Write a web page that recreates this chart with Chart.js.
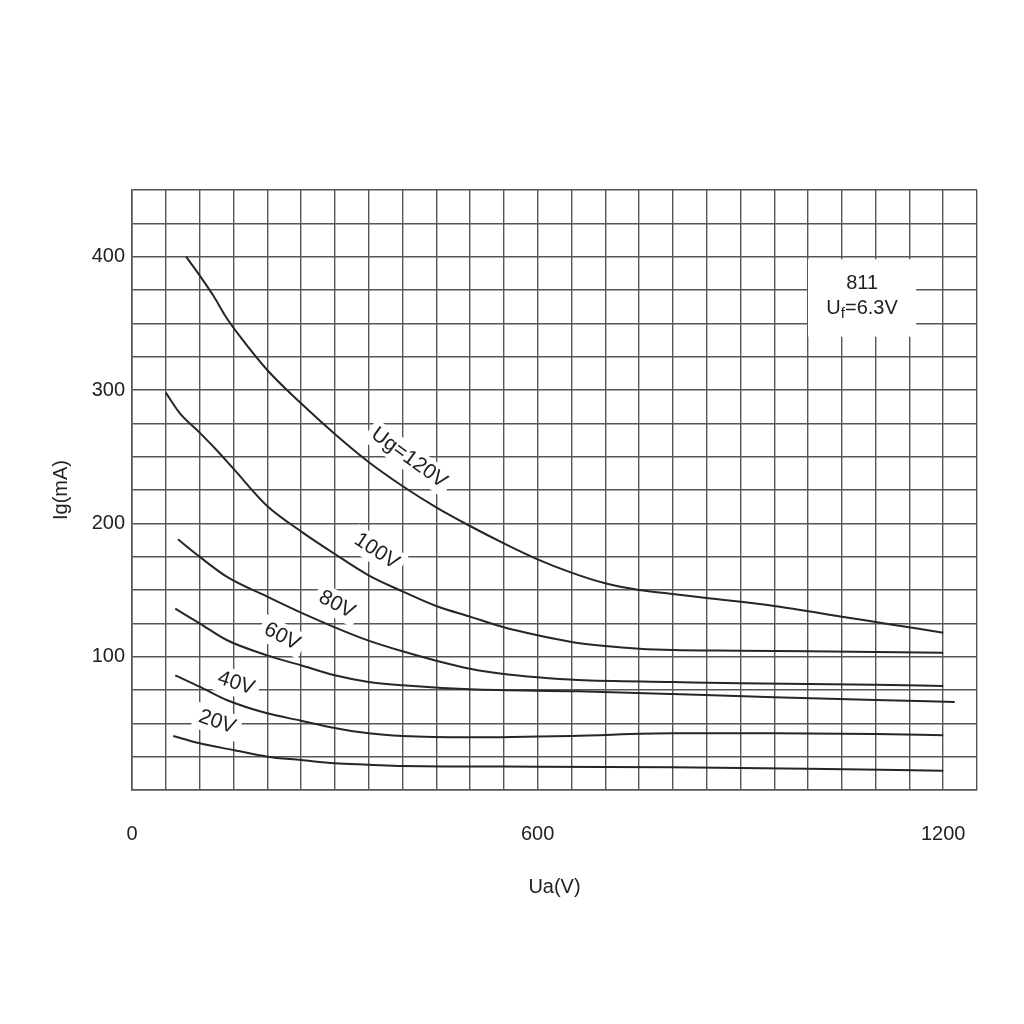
<!DOCTYPE html>
<html>
<head>
<meta charset="utf-8">
<script src="https://cdn.jsdelivr.net/npm/chart.js@4.4.1/dist/chart.umd.min.js"></script>
<style>
    body { margin: 0; background: #fff; }
    #wrap { width: 1024px; height: 1024px; }
</style>
</head>
<body>
<div id="wrap"><canvas id="chart"></canvas></div>
<script>
// 811 grid current curves: anode voltage Ua (V) against grid current Ig (mA)
const ua120 = [80, 100, 120, 140, 160, 200, 250, 300, 350, 400, 450, 500, 550, 600, 650, 700, 750, 800, 850, 950, 1050, 1125, 1200];
const ig120 = [400, 386, 371, 354, 340, 315, 290, 267, 246, 228, 212, 198, 185, 173, 163, 155, 150, 147, 144, 138, 130, 124, 118];

const ua100 = [50, 70, 100, 125, 150, 200, 250, 300, 350, 400, 450, 500, 550, 600, 650, 700, 750, 800, 900, 1000, 1100, 1200];
const ig100 = [298, 283, 268, 255, 241, 213, 194, 177, 161, 149, 138, 130, 122, 116, 111, 108, 106, 105, 104.5, 104, 103.5, 103];

const ua80 = [68, 100, 140, 200, 250, 300, 350, 400, 450, 500, 550, 600, 660, 800, 900, 1000, 1100, 1200];
const ig80 = [188, 175, 160, 145, 133, 122, 112, 104, 97, 91, 87, 84.5, 82.5, 81, 80, 79.5, 79, 78];

const ua60 = [64, 100, 140, 200, 250, 300, 350, 400, 500, 660, 800, 950, 1100, 1217];
const ig60 = [136, 125, 112.5, 101, 93.5, 86, 81, 78.5, 75.5, 74, 72, 69.5, 67.5, 66];

const ua40 = [64, 100, 140, 200, 250, 300, 350, 400, 500, 650, 800, 950, 1100, 1200];
const ig40 = [86, 77.5, 67.5, 57.5, 52, 46.5, 42.5, 40.5, 39.5, 40.5, 42.5, 42.5, 42, 41];

const ua20 = [61, 100, 150, 200, 250, 300, 350, 400, 600, 800, 1000, 1200];
const ig20 = [40.5, 35, 30, 25, 22.5, 20, 19, 18, 17.5, 17, 16, 14.5];

const xTickLabels = [0, 600, 1200];
const yTickLabels = [100, 200, 300, 400];

const FONT = '"Liberation Sans", Arial, sans-serif';
const INK = '#222';

// curve names written along the lines (position in data units)
const curveLabels = [
    { text: 'Ug=120V', ua: 410, ig: 249, angle: 36 },
    { text: '100V', ua: 362, ig: 179, angle: 33 },
    { text: '80V', ua: 303, ig: 139, angle: 28 },
    { text: '60V', ua: 222, ig: 115, angle: 27 },
    { text: '40V', ua: 154, ig: 80, angle: 18 },
    { text: '20V', ua: 126, ig: 51, angle: 19 }
];

function toPoints(xs, ys) {
    return xs.map((x, i) => ({ x: x, y: ys[i] }));
}

function curve(xs, ys) {
    return {
        data: toPoints(xs, ys),
        showLine: true,
        borderColor: '#262626',
        borderWidth: 2,
        pointRadius: 0,
        fill: false,
        cubicInterpolationMode: 'monotone'
    };
}

const labelPlugin = {
    id: 'curveLabels',
    beforeDatasetsDraw(chart) {
        const { ctx, scales: { x, y } } = chart;
        ctx.save();
        ctx.font = '21px ' + FONT;
        ctx.textAlign = 'center';
        ctx.textBaseline = 'middle';

        curveLabels.forEach(l => {
            const px = x.getPixelForValue(l.ua);
            const py = y.getPixelForValue(l.ig);
            const w = ctx.measureText(l.text).width;
            ctx.save();
            ctx.translate(px, py);
            ctx.rotate(l.angle * Math.PI / 180);
            ctx.fillStyle = '#fff';
            ctx.fillRect(-w / 2 - 5, -13, w + 10, 26);
            ctx.fillStyle = INK;
            ctx.fillText(l.text, 0, 0);
            ctx.restore();
        });

        // tube type box, top right
        const bx0 = x.getPixelForValue(1000), bx1 = x.getPixelForValue(1160);
        const by0 = y.getPixelForValue(398), by1 = y.getPixelForValue(340);
        ctx.fillStyle = '#fff';
        ctx.fillRect(bx0, by0, bx1 - bx0, by1 - by0);

        const cx = (bx0 + bx1) / 2;
        ctx.font = '20px ' + FONT;
        ctx.fillStyle = INK;
        ctx.fillText('811', cx, y.getPixelForValue(380));

        // "Uf=6.3V" with subscript f
        const ly = y.getPixelForValue(361);
        ctx.textAlign = 'left';
        const wU = ctx.measureText('U').width;
        const wRest = ctx.measureText('=6.3V').width;
        ctx.font = '15px ' + FONT;
        const wf = ctx.measureText('f').width;
        const sx = cx - (wU + wf + wRest) / 2;
        ctx.font = '20px ' + FONT;
        ctx.fillText('U', sx, ly);
        ctx.font = '15px ' + FONT;
        ctx.fillText('f', sx + wU, ly + 5);
        ctx.font = '20px ' + FONT;
        ctx.fillText('=6.3V', sx + wU + wf, ly);
        ctx.restore();
    }
};

const gridStyle = { color: '#555', lineWidth: 1.4, drawTicks: false };
const borderStyle = { color: '#555', width: 1.6 };

new Chart(document.getElementById('chart'), {
    type: 'scatter',
    data: {
        datasets: [
            curve(ua120, ig120),
            curve(ua100, ig100),
            curve(ua80, ig80),
            curve(ua60, ig60),
            curve(ua40, ig40),
            curve(ua20, ig20)
        ]
    },
    options: {
        responsive: true,
        maintainAspectRatio: false,
        animation: false,
        layout: { padding: { top: 190, right: 47, left: 0, bottom: 0 } },
        plugins: {
            legend: { display: false },
            tooltip: { enabled: false }
        },
        scales: {
            x: {
                type: 'linear',
                min: 0,
                max: 1250,
                grid: gridStyle,
                border: borderStyle,
                ticks: {
                    stepSize: 50,
                    autoSkip: false,
                    maxRotation: 0,
                    padding: 32,
                    color: INK,
                    font: { family: FONT, size: 20 },
                    callback: v => xTickLabels.includes(v) ? String(v) : ''
                },
                title: {
                    display: true,
                    text: 'Ua(V)',
                    color: INK,
                    font: { family: FONT, size: 20 },
                    padding: { top: 0, bottom: 125 }
                },
                afterFit: s => { s.height = 234; }
            },
            y: {
                type: 'linear',
                min: 0,
                max: 450,
                grid: gridStyle,
                border: borderStyle,
                ticks: {
                    stepSize: 25,
                    autoSkip: false,
                    padding: 7,
                    color: INK,
                    font: { family: FONT, size: 20 },
                    callback: v => yTickLabels.includes(v) ? String(v) : ''
                },
                title: {
                    display: true,
                    text: 'Ig(mA)',
                    color: INK,
                    font: { family: FONT, size: 20 },
                    padding: { top: 49, bottom: 0 }
                },
                afterFit: s => { s.width = 132; }
            }
        }
    },
    plugins: [labelPlugin]
});
</script>
</body>
</html>
